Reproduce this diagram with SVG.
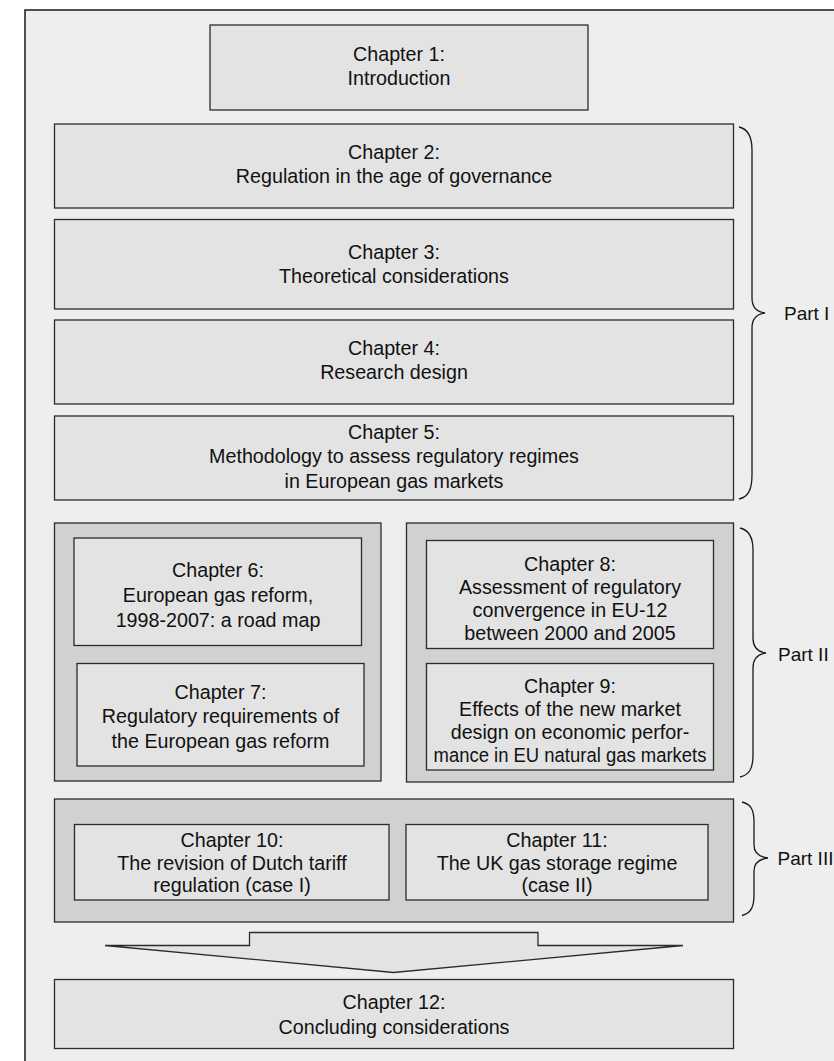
<svg xmlns="http://www.w3.org/2000/svg" width="834" height="1061" viewBox="0 0 834 1061">
  <style>
    .frame { fill: #eeeeee; stroke: #1a1a1a; stroke-width: 1.5; }
    .box { fill: #e3e3e3; stroke: #2b2b2b; stroke-width: 1.3; }
    .group { fill: #d0d1d1; stroke: #2b2b2b; stroke-width: 1.3; }
    .brace { fill: none; stroke: #1a1a1a; stroke-width: 1.3; }
    text { font-family: "Liberation Sans", Arial, sans-serif; font-size: 19.7px; fill: #111111; text-anchor: middle; }
    .part { text-anchor: start; font-size: 19px; }
  </style>

  <rect width="834" height="1061" fill="#ffffff"/>
  <rect class="frame" x="25" y="10" width="900" height="1100"/>

  <!-- Chapter 1 -->
  <g id="ch1">
    <rect class="box" x="210" y="25" width="378" height="85"/>
    <text x="399" y="61">Chapter 1:</text>
    <text x="399" y="85">Introduction</text>
  </g>

  <!-- Part I chapters -->
  <g id="ch2">
    <rect class="box" x="54.5" y="124" width="679" height="84"/>
    <text x="394" y="159">Chapter 2:</text>
    <text x="394" y="183">Regulation in the age of governance</text>
  </g>
  <g id="ch3">
    <rect class="box" x="54.5" y="219.5" width="679" height="89.5"/>
    <text x="394" y="259">Chapter 3:</text>
    <text x="394" y="283">Theoretical considerations</text>
  </g>
  <g id="ch4">
    <rect class="box" x="54.5" y="320" width="679" height="84"/>
    <text x="394" y="355">Chapter 4:</text>
    <text x="394" y="379">Research design</text>
  </g>
  <g id="ch5">
    <rect class="box" x="54.5" y="416" width="679" height="84"/>
    <text x="394" y="439">Chapter 5:</text>
    <text x="394" y="463">Methodology to assess regulatory regimes</text>
    <text x="394" y="487.5">in European gas markets</text>
  </g>

  <!-- Part II -->
  <g id="part2-left">
    <rect class="group" x="54.5" y="523" width="326.5" height="258"/>
  </g>
  <g id="part2-right">
    <rect class="group" x="406.5" y="523" width="327" height="259"/>
  </g>
  <g id="ch6">
    <rect class="box" x="74" y="538" width="287.5" height="107.5"/>
    <text x="218" y="577">Chapter 6:</text>
    <text x="218" y="602">European gas reform,</text>
    <text x="218" y="626.5">1998-2007: a road map</text>
  </g>
  <g id="ch7">
    <rect class="box" x="77" y="663.5" width="287" height="102.5"/>
    <text x="220.5" y="698.5">Chapter 7:</text>
    <text x="220.5" y="723">Regulatory requirements of</text>
    <text x="220.5" y="747.5">the European gas reform</text>
  </g>
  <g id="ch8">
    <rect class="box" x="426.5" y="540.5" width="287" height="108"/>
    <text x="570" y="570.5">Chapter 8:</text>
    <text x="570" y="594">Assessment of regulatory</text>
    <text x="570" y="617">convergence in EU-12</text>
    <text x="570" y="639.5">between 2000 and 2005</text>
  </g>
  <g id="ch9">
    <rect class="box" x="426.5" y="663.5" width="287" height="106.5"/>
    <text x="570" y="692.5">Chapter 9:</text>
    <text x="570" y="715.5">Effects of the new market</text>
    <text x="570" y="738.5">design on economic perfor-</text>
    <text x="570" y="761.5" textLength="273" lengthAdjust="spacingAndGlyphs">mance in EU natural gas markets</text>
  </g>

  <!-- Part III -->
  <g id="part3">
    <rect class="group" x="54.5" y="799" width="679" height="123"/>
  </g>
  <g id="ch10">
    <rect class="box" x="74.5" y="824.5" width="314.5" height="75.5"/>
    <text x="232" y="847">Chapter 10:</text>
    <text x="232" y="869.5">The revision of Dutch tariff</text>
    <text x="232" y="892">regulation (case I)</text>
  </g>
  <g id="ch11">
    <rect class="box" x="406" y="824.5" width="302" height="75.5"/>
    <text x="557" y="847">Chapter 11:</text>
    <text x="557" y="869.5">The UK gas storage regime</text>
    <text x="557" y="892">(case II)</text>
  </g>

  <!-- Chapter 12 -->
  <g id="ch12">
    <rect class="box" x="54.5" y="979.5" width="679" height="69"/>
    <text x="394" y="1008.5">Chapter 12:</text>
    <text x="394" y="1033.5">Concluding considerations</text>
  </g>

  <!-- Connectors: convergence arrow and part braces -->
  <g id="connectors">
    <polygon class="box" points="249.5,932.5 538,932.5 538,945.5 683,945.5 393.5,972.5 105,945.5 249.5,945.5"/>
    <path class="brace" d="M739,127 C748,129 752,136 752,150 L752,298 C752,307 757,312 765,313 C757,314 752,319 752,328 L752,475 C752,490 748,497 739,499"/>
    <path class="brace" d="M740,528 C749,530 753,537 753,550 L753,638 C753,647 758,652 766,653 C758,654 753,659 753,668 L753,755 C753,769 749,775 740,777"/>
    <path class="brace" d="M742,802 C751,804 754,810 754,822 L754,845 C754,853 760,857 768,858 C760,859 754,863 754,871 L754,895 C754,907 751,913 742,915.5"/>
  </g>

  <!-- Part labels -->
  <g id="labels">
    <text class="part" x="784" y="319.5">Part I</text>
    <text class="part" x="778" y="660.5">Part II</text>
    <text class="part" x="777.5" y="865">Part III</text>
  </g>
</svg>
